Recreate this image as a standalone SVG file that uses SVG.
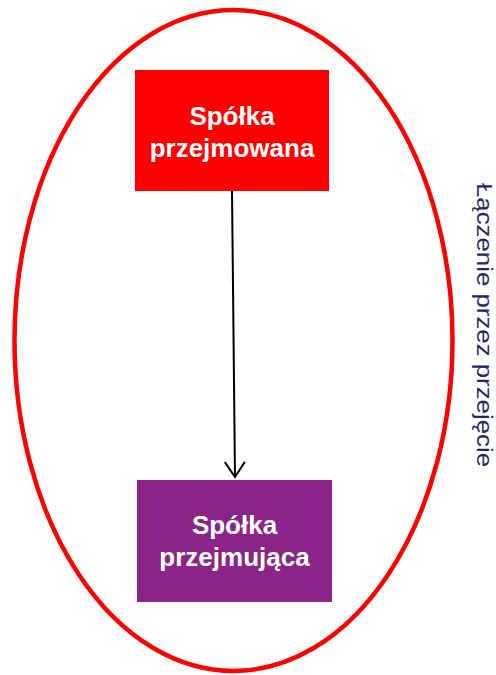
<svg xmlns="http://www.w3.org/2000/svg" width="496" height="675" viewBox="0 0 496 675">
<style>
.lbl{font-family:"Liberation Sans",Arial,sans-serif;font-weight:bold;font-size:26px;fill:#fff;text-anchor:middle}
.side{font-family:"Liberation Sans",Arial,sans-serif;font-size:22px;fill:#1C2A6B}
</style>
<defs>
<marker id="arr" markerWidth="18" markerHeight="22" refX="16" refY="11" orient="auto" markerUnits="userSpaceOnUse" viewBox="0 0 18 22">
<path d="M1,1 L16,11 L1,21" fill="none" stroke="#000" stroke-width="2"/>
</marker>
</defs>
<g id="boundary">
<ellipse cx="233.5" cy="340.5" rx="219" ry="330.5" fill="none" stroke="#FF0000" stroke-width="4.5"/>
</g>
<g id="connectors">
<line x1="232" y1="191" x2="235" y2="477" stroke="#000" stroke-width="2" marker-end="url(#arr)"/>
</g>
<g id="spolka-przejmowana">
<rect x="135" y="70" width="194" height="121" fill="#FF0000"/>
<text class="lbl" x="232" y="125">Spółka</text>
<text class="lbl" x="232" y="157">przejmowana</text>
</g>
<g id="spolka-przejmujaca">
<rect x="137" y="480" width="195" height="122" fill="#8B2488"/>
<text class="lbl" x="234.5" y="534">Spółka</text>
<text class="lbl" x="234.5" y="566">przejmująca</text>
</g>
<g id="title">
<text class="side" transform="translate(477,183) rotate(90)" textLength="284" lengthAdjust="spacingAndGlyphs">Łączenie przez przejęcie</text>
</g>
</svg>
